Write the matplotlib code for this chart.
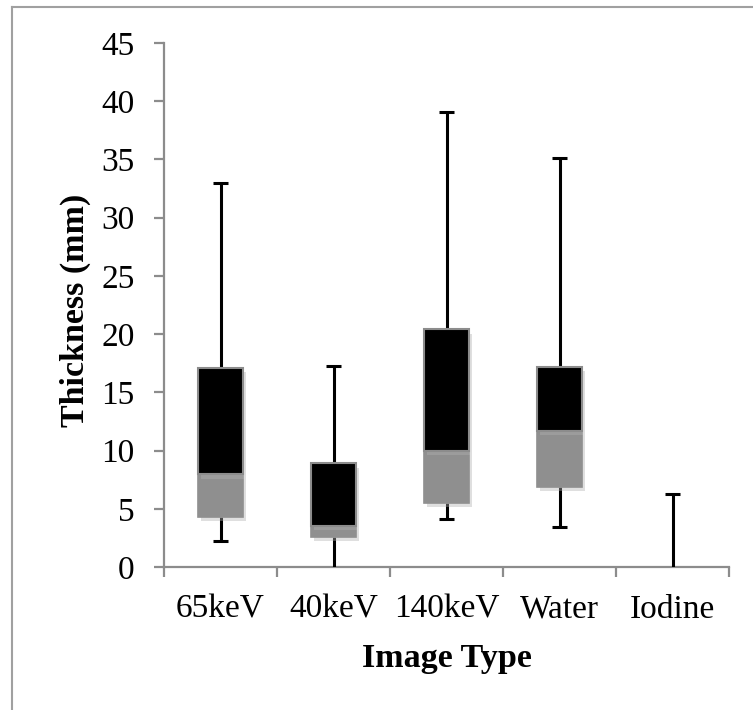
import matplotlib
matplotlib.use('Agg')
import matplotlib.pyplot as plt
import matplotlib.patheffects as pe
from matplotlib.lines import Line2D
import numpy as np

# box plot values (mm)
categories = ['65keV', '40keV', '140keV', 'Water', 'Iodine']
mins = [2.2, 0.0, 4.1, 3.45, 0.0]
q1 = [4.3, 2.55, 5.5, 6.9, 0.0]
medians = [7.95, 3.5, 9.95, 11.7, 0.0]
q3 = [17.1, 8.9, 20.4, 17.15, 0.0]
maxs = [33.0, 17.25, 39.1, 35.1, 6.25]

plt.rcParams['font.family'] = 'Liberation Serif'
edge = '#8c8c8c'

W, H = 753, 710
fig = plt.figure(figsize=(W / 100, H / 100), dpi=100)
ax = fig.add_axes([164 / W, 1 - 567 / H, (729 - 164) / W, (567 - 43) / H])

x = np.arange(len(categories)) + 0.5
width = 0.4
shadow = [pe.SimplePatchShadow(offset=(2, -3), shadow_rgbFace='#b0b0b0', alpha=0.4), pe.Normal()]

lower = np.array(medians) - np.array(q1)
upper = np.array(q3) - np.array(medians)
keep = (np.array(q3) - np.array(q1)) > 0

ax.bar(x[keep], lower[keep], width, bottom=np.array(q1)[keep], color='#8f8f8f',
       edgecolor='#8f8f8f', linewidth=1.2, zorder=3, path_effects=shadow)
ax.bar(x[keep], upper[keep], width, bottom=np.array(medians)[keep], color='black',
       edgecolor=edge, linewidth=1.5, zorder=3, path_effects=shadow)

# whiskers
ax.vlines(x, q3, maxs, color='black', lw=2.2, zorder=2)
ax.vlines(x, mins, q1, color='black', lw=2.2, zorder=2)
cap = 0.065
ax.hlines(maxs, x - cap, x + cap, color='black', lw=2.2, zorder=2)
lo = np.array(mins) > 0
ax.hlines(np.array(mins)[lo], x[lo] - cap, x[lo] + cap, color='black', lw=2.2, zorder=2)

ax.set_xlim(0, 5)
ax.set_ylim(0, 45)
ax.set_yticks(np.arange(0, 46, 5))
ax.set_xticks(np.arange(0, 6))
ax.set_xticklabels([])
ax.set_xticks(x, minor=True)
ax.set_xticklabels(categories, minor=True)
for lab in ax.get_xticklabels(minor=True):
    lab.set_verticalalignment('baseline')

for s in ['top', 'right']:
    ax.spines[s].set_visible(False)
for s in ['left', 'bottom']:
    ax.spines[s].set_color(edge)
    ax.spines[s].set_linewidth(1.6)
    ax.spines[s].set_zorder(1)

ax.tick_params(axis='y', direction='out', length=7, width=1.6, color=edge,
               labelsize=24, pad=14)
ax.tick_params(axis='x', which='major', direction='out', length=7, width=1.6, color=edge)
ax.tick_params(axis='x', which='minor', length=0, labelsize=24, pad=36.5)

fig.text(75 / W, 1 - 310 / H, 'Thickness (mm)', rotation=90, ha='center', va='center',
         fontsize=24.5, fontweight='bold')
fig.text(446.5 / W, 1 - 667 / H, 'Image Type', ha='center', va='baseline',
         fontsize=24.5, fontweight='bold')

# outer chart border
fig.add_artist(Line2D([12 / W, 12 / W], [0, 1 - 7 / H], color='#a0a0a0', lw=1.5,
                      transform=fig.transFigure))
fig.add_artist(Line2D([12 / W, 1], [1 - 7 / H, 1 - 7 / H], color='#a0a0a0', lw=1.5,
                      transform=fig.transFigure))

fig.savefig('out.png', dpi=100)
